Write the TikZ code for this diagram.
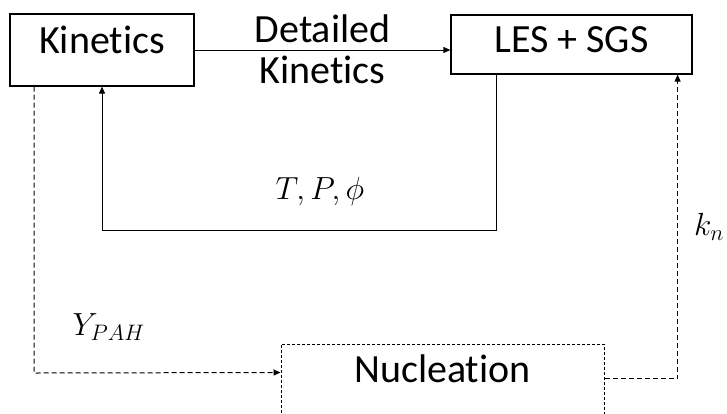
\RequirePackage{fix-cm}
\documentclass[tikz,border=0pt]{standalone}
\usepackage{fontspec}
\setmainfont{Carlito}[Ligatures=NoCommon]
\usetikzlibrary{arrows.meta, positioning, calc}
\tikzset{
  khoi/.style={draw, line width=1.2pt, inner sep=0pt, font=\fontsize{40}{41}\selectfont},
  chu/.style={inner sep=0pt, font=\fontsize{40}{41}\selectfont},
  muiten/.style={line width=1pt, -{Triangle[length=7pt,width=6pt]}},
  netdut/.style={dash pattern=on 5pt off 3pt},
  nhan/.style={inner sep=0pt, font=\fontsize{32}{38}\selectfont}
}
\begin{document}
\begin{tikzpicture}[x=1pt,y=-1pt]

            % Khung hình
            \clip (0,0) rectangle (727,413);

            % Các khối
            \node[khoi, minimum width=184pt, text height=39pt, text depth=33pt] (kin) at (102,50) {Kinetics};
            \node[khoi, minimum width=241pt, text height=37pt, text depth=22pt] (les) at (571.5,44.5) {LES + SGS};
            \node[khoi, line width=1pt, dash pattern=on 3pt off 2pt, minimum width=323pt, text height=38pt, text depth=50pt] (nuc) at (442.5,388) {Nucleation};

            % Mũi tên Detailed Kinetics
            \draw[muiten] (kin.east) -- node[chu, anchor=base, yshift=8pt] {Detailed}
                node[chu, anchor=base, yshift=-33pt] {Kinetics} (kin.east -| les.west);

            % Vòng phản hồi
            \coordinate (vongP) at (496,230);
            \coordinate (vongT) at (102,230);
            \draw[muiten] (les.south -| vongP) -- (vongP)
                -- node[nhan, pos=0.447, anchor=base, yshift=31pt] {$T,P,\phi$} (vongT)
                -- (kin.south -| vongT);

            % Nhánh Y_PAH
            \coordinate (goc) at (34,373);
            \coordinate (vaoNuc) at ([yshift=-29pt]nuc.north west);
            \draw[muiten, netdut] (kin.south -| goc)
                -- node[nhan, pos=0.868, anchor=base west, xshift=38pt] {$Y_{PAH}$} (goc)
                -- (vaoNuc);

            % Nhánh k_n
            \coordinate (raNuc) at ([yshift=-35pt]nuc.north east);
            \draw[muiten, netdut] (raNuc)
                -| node[nhan, pos=0.75, anchor=west, xshift=16pt] {$k_n$} ([xshift=-15pt]les.south east);

\end{tikzpicture}
\end{document}
